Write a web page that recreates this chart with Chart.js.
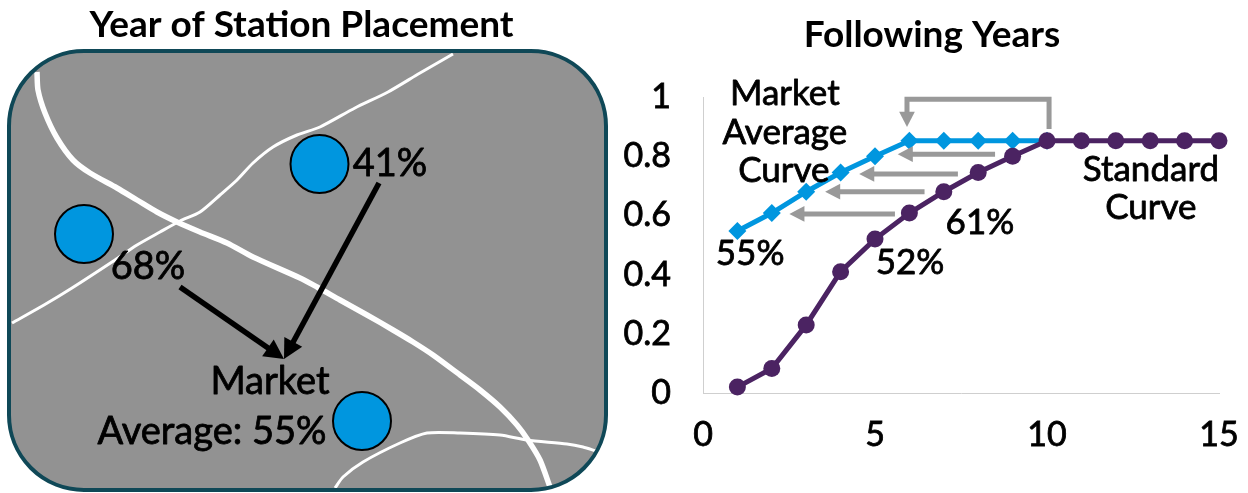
<!DOCTYPE html>
<html><head><meta charset="utf-8">
<script src="https://cdn.jsdelivr.net/npm/chart.js@4/dist/chart.umd.min.js"></script>
<style>
html,body{margin:0;padding:0;background:#fff;overflow:hidden;width:1248px;height:493px}
#l{position:absolute;left:0;top:0;width:620px;height:493px}
#r{position:absolute;left:620px;top:0;width:628px;height:493px}
</style></head><body>
<div id="l"><canvas id="mapChart"></canvas></div>
<div id="r"><canvas id="curveChart"></canvas></div>
<script>
// ---- Following Years curves ----
const years = [1,2,3,4,5,6,7,8,9,10,11,12,13,14,15];
const standardCurve = [0.02,0.083,0.23,0.41,0.52,0.608,0.68,0.745,0.80,0.852,0.852,0.852,0.852,0.852,0.852];
const marketYears = [1,2,3,4,5,6,7,8,9,10];
const marketCurve = [0.547,0.608,0.68,0.745,0.80,0.852,0.852,0.852,0.852,0.852];
const xTicks = [0,5,10,15];
const yTicks = [0,0.2,0.4,0.6,0.8,1];
const grayArrows = [
  [[10.06,0.892],[10.06,0.992],[5.93,0.992],[5.93,0.899]],
  [[8.49,0.807],[5.66,0.807]],
  [[7.41,0.74],[4.54,0.74]],
  [[6.44,0.68],[3.55,0.68]],
  [[5.58,0.605],[2.51,0.605]]
];
const curveLabels = [
  ["Market",2.38,1.01],["Average",2.38,0.878],["Curve",2.35,0.75],
  ["Standard",13.02,0.755],["Curve",13.02,0.625],
  ["61%",8.05,0.575],["52%",6.02,0.44],["55%",1.37,0.47]
];
// ---- Year of Station Placement map (map units) ----
const majorRoad = [[37,72],[38,90],[45,113],[57,138],[73,160],[90,173],[117,188],[137,200],[157,212],[177,222],[200,232],[227,243],[253,257],[300,278],[317,287],[340,300],[367,315],[393,330],[413,342],[433,355],[460,375],[480,390],[500,407],[517,425],[528,440],[540,460],[550,487]];
const minorRoadA = [[453,54],[420,73],[388,92],[355,108],[320,127],[297,135],[273,147],[253,163],[237,180],[220,195],[200,212],[180,221],[160,232],[137,245],[115,260],[72,288],[44,305],[12,323]];
const minorRoadB = [[335,488],[343,477],[363,462],[400,443],[427,433],[460,433],[500,435],[527,440],[567,444],[583,447],[596,451]];
const stations = [[84,234],[319.5,164],[362,421]];
const blackArrows = [
  [[379,183],[284,359]],
  [[180,287],[284,359]]
];
const mapLabels = [
  ["41%",390,164],["68%",148,267],["Market",270,382],["Average: 55%",212,432]
];
const mapPanel = {x0:9,y0:51,x1:606,y1:490,r:75};

const FAMILY = 'Lato, "Noto Sans", sans-serif';
Chart.defaults.font.family = FAMILY;
Chart.defaults.animation = false;
Chart.defaults.responsive = true;
Chart.defaults.maintainAspectRatio = false;

function arrowsPlugin(arrows, color, width, head, labels, fontSize){
  return {
    id:'overlay',
    afterDatasetsDraw(chart){
      const {ctx, scales:{x,y}} = chart;
      ctx.save();
      ctx.strokeStyle = color; ctx.fillStyle = color; ctx.lineWidth = width;
      ctx.lineJoin = 'miter'; ctx.lineCap = 'butt';
      arrows.forEach(a=>{
        const p = a.map(q=>[x.getPixelForValue(q[0]), y.getPixelForValue(q[1])]);
        const e = p[p.length-1], b = p[p.length-2];
        const ang = Math.atan2(e[1]-b[1], e[0]-b[0]);
        ctx.beginPath();
        ctx.moveTo(p[0][0],p[0][1]);
        for(let i=1;i<p.length-1;i++) ctx.lineTo(p[i][0],p[i][1]);
        ctx.lineTo(e[0]-Math.cos(ang)*head*0.8, e[1]-Math.sin(ang)*head*0.8);
        ctx.stroke();
        ctx.beginPath();
        ctx.moveTo(e[0],e[1]);
        ctx.lineTo(e[0]-Math.cos(ang-0.48)*head, e[1]-Math.sin(ang-0.48)*head);
        ctx.lineTo(e[0]-Math.cos(ang+0.48)*head, e[1]-Math.sin(ang+0.48)*head);
        ctx.closePath(); ctx.fill();
      });
      ctx.fillStyle = '#000'; ctx.strokeStyle = '#000'; ctx.lineWidth = 0.8; ctx.lineJoin='round';
      ctx.font = fontSize+'px '+FAMILY;
      ctx.textAlign = 'center'; ctx.textBaseline = 'middle';
      labels.forEach(l=>{
        const X=x.getPixelForValue(l[1]), Y=y.getPixelForValue(l[2]);
        ctx.strokeText(l[0],X,Y); ctx.fillText(l[0],X,Y);
      });
      ctx.restore();
    }
  };
}
const panelPlugin = {
  id:'panel',
  beforeDatasetsDraw(chart){
    const {ctx, scales:{x,y}} = chart, m = mapPanel;
    const X0=x.getPixelForValue(m.x0),X1=x.getPixelForValue(m.x1),Y0=y.getPixelForValue(m.y0),Y1=y.getPixelForValue(m.y1);
    ctx.save();
    ctx.beginPath(); ctx.roundRect(X0,Y0,X1-X0,Y1-Y0,m.r);
    ctx.fillStyle='#929292'; ctx.fill();
    ctx.restore();
  },
  afterDatasetsDraw(chart){
    const {ctx, scales:{x,y}} = chart, m = mapPanel;
    const X0=x.getPixelForValue(m.x0),X1=x.getPixelForValue(m.x1),Y0=y.getPixelForValue(m.y0),Y1=y.getPixelForValue(m.y1);
    ctx.save();
    ctx.beginPath(); ctx.roundRect(X0,Y0,X1-X0,Y1-Y0,m.r);
    ctx.strokeStyle='#0F4857'; ctx.lineWidth=4; ctx.stroke();
    ctx.restore();
  }
};
const titleShift = {id:'titleShift',afterLayout(chart){chart.titleBlock.left = 22; chart.titleBlock.right = 602;}};
const toXY = a => a.map(p=>({x:p[0],y:p[1]}));
const road = (pts,w) => ({type:'scatter',data:toXY(pts),showLine:true,borderColor:'#fff',borderWidth:w,pointRadius:0,tension:0.25,clip:false,order:2});

new Chart(document.getElementById('mapChart'),{
  type:'scatter',
  data:{datasets:[
    road(majorRoad,5.5), road(minorRoadA,3), road(minorRoadB,3),
    {data:toXY(stations),pointRadius:29,pointBackgroundColor:'#0096DF',pointBorderColor:'#000',pointBorderWidth:2,showLine:false,clip:false,order:1}
  ]},
  options:{
    layout:{autoPadding:false,padding:{right:17}},
    plugins:{
      legend:{display:false},tooltip:{enabled:false},
      title:{display:true,text:'Year of Station Placement',color:'#000',font:{size:37,weight:'bold',lineHeight:1.2},padding:{top:3,bottom:2.6}}
    },
    scales:{
      x:{type:'linear',display:false,min:0,max:603},
      y:{type:'linear',display:false,min:50,max:493,reverse:true}
    }
  },
  plugins:[panelPlugin,arrowsPlugin(blackArrows,'#000',5.5,22,mapLabels,38)]
});

new Chart(document.getElementById('curveChart'),{
  type:'scatter',
  data:{datasets:[
    {label:'Market Average Curve',data:marketYears.map((v,i)=>({x:v,y:marketCurve[i]})),showLine:true,borderColor:'#0096DF',backgroundColor:'#0096DF',borderWidth:5,pointStyle:'rectRot',pointRadius:9,pointBorderWidth:0,tension:0,clip:false,order:2},
    {label:'Standard Curve',data:years.map((v,i)=>({x:v,y:standardCurve[i]})),showLine:true,borderColor:'#4B2362',backgroundColor:'#4B2362',borderWidth:5,pointStyle:'circle',pointRadius:8.5,pointBorderWidth:0,tension:0,clip:false,order:1}
  ]},
  options:{
    layout:{autoPadding:false,padding:{right:29,bottom:40}},
    plugins:{
      legend:{display:false},tooltip:{enabled:false},
      title:{display:true,text:'Following Years',color:'#000',font:{size:37,weight:'bold',lineHeight:1.2},padding:{top:13,bottom:39.6}}
    },
    scales:{
      x:{type:'linear',min:0,max:15,
        afterBuildTicks:s=>{s.ticks=xTicks.map(v=>({value:v}));},
        afterFit:s=>{s.height=60;s.paddingLeft=0;s.paddingRight=0;},
        grid:{drawOnChartArea:false,drawTicks:false},border:{color:'#CFCFCF',width:1},
        ticks:{color:'#000',font:{size:34},padding:22,maxRotation:0,textStrokeColor:'#000',textStrokeWidth:0.8,callback:v=>String(v)}},
      y:{type:'linear',min:0,max:1,
        afterBuildTicks:s=>{s.ticks=yTicks.map(v=>({value:v}));},
        afterFit:s=>{s.width=83;},
        grid:{drawOnChartArea:false,drawTicks:false},border:{color:'#CFCFCF',width:1},
        ticks:{color:'#000',font:{size:34},padding:32,textStrokeColor:'#000',textStrokeWidth:0.8,callback:v=>String(v)}}
    }
  },
  plugins:[titleShift,arrowsPlugin(grayArrows,'#999999',5,17,curveLabels,35)]
});
</script>
</body></html>
